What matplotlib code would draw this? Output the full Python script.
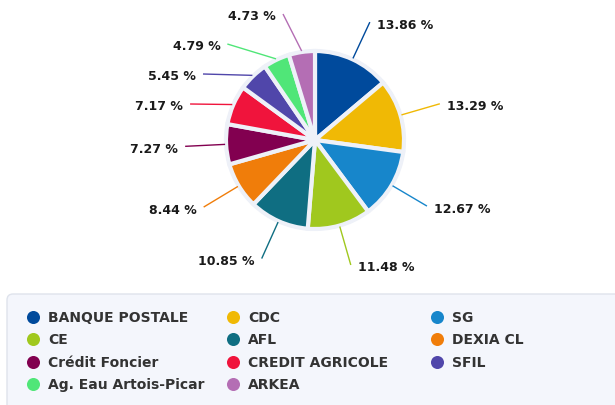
import numpy as np
import matplotlib
matplotlib.use("Agg")
import matplotlib.pyplot as plt
from matplotlib.patches import Circle, FancyBboxPatch

# ---- data ----
categories = ["BANQUE POSTALE", "CDC", "SG", "CE", "AFL", "DEXIA CL",
              "Crédit Foncier", "CREDIT AGRICOLE", "SFIL",
              "Ag. Eau Artois-Picar", "ARKEA"]
values = [13.86, 13.29, 12.67, 11.48, 10.85, 8.44, 7.27, 7.17, 5.45, 4.79, 4.73]
colors = ["#004a9c", "#f0b905", "#1786cb", "#a0c81e", "#0f6e82", "#f07d0a",
          "#820050", "#f0143c", "#5046aa", "#50e678", "#b46eb4"]

W, H = 615, 406
fig = plt.figure(figsize=(W / 100, H / 100), dpi=100)
ax = fig.add_axes([0, 0, 1, 1])

def Y(py):
    return H - py

cx, cy = 315, Y(141)
ring = Circle((cx, cy), 90.5, facecolor="#eef1f8", edgecolor="none", zorder=0)
ax.add_patch(ring)

wedges, _ = ax.pie(values, colors=colors, startangle=90, counterclock=False,
                   center=(cx, cy), radius=89,
                   wedgeprops=dict(edgecolor="#eef1f8", linewidth=3))
ax.set_xlim(0, W)
ax.set_ylim(0, H)
ax.set_aspect("equal")
ax.axis("off")

# ---- data labels with connectors ----
R = 130
spacing = 30
top_bound = Y(15)
infos = []
for w, v, c in zip(wedges, values, colors):
    mid = np.deg2rad((w.theta1 + w.theta2) / 2)
    side = 1 if np.cos(mid) >= 0 else -1
    infos.append(dict(mid=mid, side=side, v=v, c=c,
                      y=cy + R * np.sin(mid)))

for side in (1, -1):
    group = sorted([d for d in infos if d["side"] == side], key=lambda d: -d["y"])
    prev = top_bound + spacing
    for d in group:
        d["y"] = min(d["y"], prev - spacing)
        prev = d["y"]

for d in infos:
    dy = d["y"] - cy
    xe = cx + d["side"] * np.sqrt(max(R ** 2 - dy ** 2, 0))
    xs = cx + 90 * np.cos(d["mid"])
    ys = cy + 90 * np.sin(d["mid"])
    ax.plot([xs, xe], [ys, d["y"]], color=d["c"], lw=1, zorder=1,
            solid_capstyle="butt")
    ax.text(xe + d["side"] * 7, d["y"] - 2, f"{d['v']:.2f} %",
            ha="left" if d["side"] > 0 else "right", va="center",
            fontsize=9, fontweight="bold", color="#1a1a1a",
            family="DejaVu Sans")

# ---- legend ----
box = FancyBboxPatch((7, Y(420)), 640, 125,
                     boxstyle="round,pad=0,rounding_size=6",
                     facecolor="#f4f6fc", edgecolor="#dfe3ec", lw=1, zorder=0)
ax.add_patch(box)
col_x = [33, 233, 437]
row_y0, row_step = 318, 22.3
for i, (name, c) in enumerate(zip(categories, colors)):
    r, k = divmod(i, 3)
    x = col_x[k]
    y = Y(row_y0 + r * row_step)
    ax.scatter([x], [y], s=88, color=c, zorder=3, linewidths=0)
    ax.text(x + 15, y, name, ha="left", va="center", fontsize=10,
            fontweight="bold", color="#333333", family="DejaVu Sans")

fig.savefig("out.png", dpi=100)
